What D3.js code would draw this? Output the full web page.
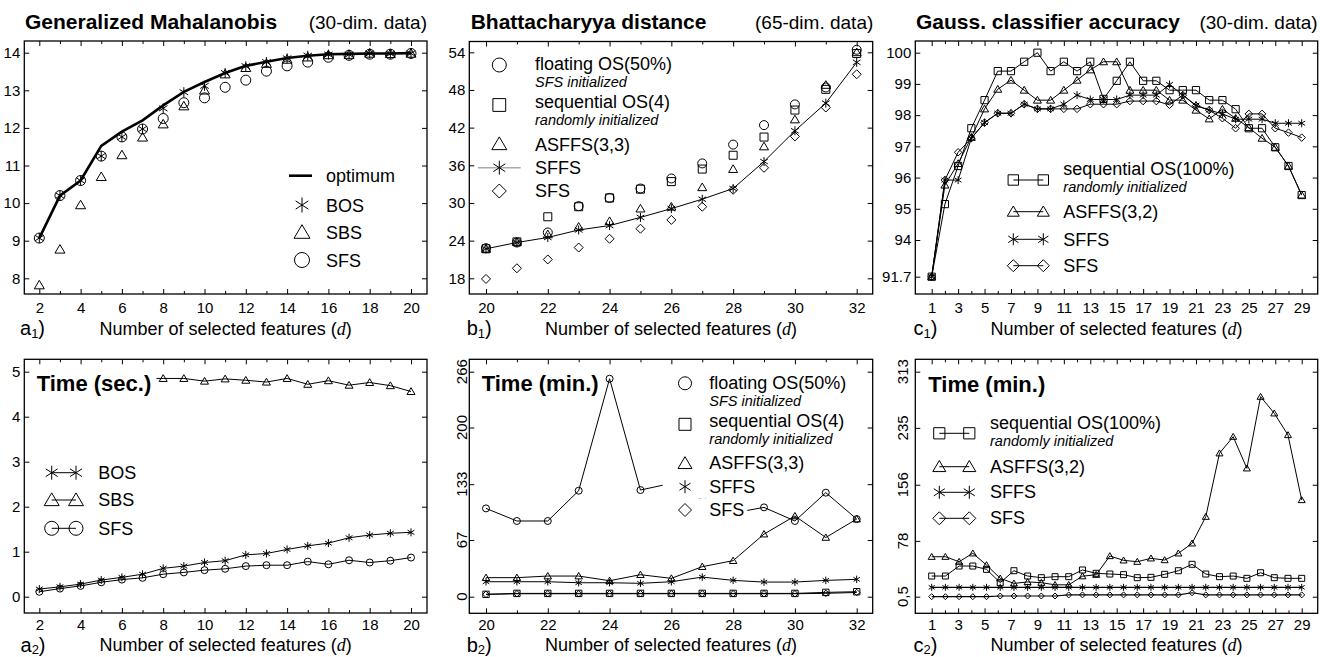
<!DOCTYPE html>
<html><head><meta charset="utf-8">
<script src="https://cdnjs.cloudflare.com/ajax/libs/d3/7.8.5/d3.min.js"></script>
<style>body{margin:0;background:#fff} svg{display:block}</style>
</head><body>
<svg id="c" width="1320" height="657"></svg>
<script>
// ---------------- DATA ----------------
const dA = [2,3,4,5,6,7,8,9,10,11,12,13,14,15,16,17,18,19,20];
const dB = [20,21,22,23,24,25,26,27,28,29,30,31,32];
const dC = [1,2,3,4,5,6,7,8,9,10,11,12,13,14,15,16,17,18,19,20,21,22,23,24,25,26,27,28,29];
const dC2 = [1,2,3,4,5,6,7,8,9,10,11,12,13,14,15,16,17,18,19,20,21,22,23,24,25,26,27,28]; // run index (28 runs over d = 1..29)

// a1 Generalized Mahalanobis
const a1Opt = [9.07,10.2,10.6,11.52,11.9,12.2,12.6,12.96,13.22,13.46,13.65,13.76,13.86,13.92,13.96,13.97,13.98,13.98,13.99];
const a1BOS = [9.07,10.2,10.6,11.25,11.76,11.97,12.52,12.95,13.12,13.46,13.64,13.75,13.85,13.92,13.95,13.95,13.98,13.97,13.98];
const a1SBS = [7.82,8.77,9.95,10.7,11.28,11.75,12.1,12.58,13.0,13.43,13.6,13.71,13.82,13.88,13.94,13.95,13.98,13.97,13.98];
const a1SFS = [9.07,10.2,10.6,11.25,11.76,11.97,12.25,12.67,12.8,13.08,13.27,13.51,13.65,13.75,13.88,13.93,13.96,13.96,13.98];

// b1 Bhattacharyya distance
const b1Float = [22.8,23.7,25.3,29.5,30.8,32.3,33.9,36.3,39.3,42.4,45.7,48.4,54.4];
const b1Seq   = [22.7,23.8,27.8,29.4,30.8,32.2,33.4,35.4,37.6,40.5,44.8,48.1,53.8];
const b1Asf   = [22.7,23.8,25.0,26.2,27.1,29.1,29.4,32.5,35.4,39.0,43.3,48.8,54.0];
const b1Sffs  = [22.7,23.7,24.5,25.7,26.4,27.7,29.1,30.6,32.3,36.6,41.5,45.9,52.4];
const b1Sfs   = [17.9,19.6,21.0,22.9,24.3,25.9,27.3,29.4,32.1,35.6,40.6,45.2,50.5];

// c1 Gauss classifier accuracy
const c1Seq  = [91.7,95.15,96.37,97.58,98.48,99.41,99.41,99.71,100,99.41,99.71,99.41,99.71,98.52,99.1,99.71,99.1,99.1,98.8,98.8,98.8,98.48,98.48,98.19,97.58,97.58,96.97,96.37,95.44];
const c1Asf  = [91.7,95.76,96.45,97.29,98.2,98.83,99.12,98.8,98.48,98.48,98.8,99.12,99.45,99.71,99.71,98.8,98.8,98.8,98.48,98.48,98.16,97.88,98.19,97.9,97.6,97.26,96.97,96.37,95.44];
const c1Sffs = [91.7,95.92,95.92,97.26,97.76,98.06,98.06,98.35,98.2,98.2,98.35,98.64,98.5,98.5,98.5,98.64,98.64,98.64,98.98,98.64,98.32,98.16,98.04,97.87,97.87,97.87,97.74,97.74,97.74];
const c1Sfs  = [91.7,95.92,96.81,97.26,97.76,98.06,98.06,98.35,98.2,98.2,98.2,98.2,98.35,98.35,98.35,98.45,98.45,98.45,98.33,98.64,98.3,98.16,97.9,97.58,98.04,98.04,97.58,97.44,97.28];

// a2 Time (sec.)
const a2BOS = [0.17,0.22,0.28,0.37,0.43,0.5,0.63,0.68,0.76,0.8,0.93,0.96,1.05,1.13,1.19,1.31,1.37,1.41,1.43];
const a2SFS = [0.11,0.18,0.24,0.32,0.38,0.42,0.5,0.54,0.59,0.62,0.68,0.7,0.7,0.78,0.72,0.81,0.76,0.8,0.87];
const dA2SBS = [7,8,9,10,11,12,13,14,15,16,17,18,19,20];
const a2SBS = [4.85,4.85,4.85,4.79,4.84,4.81,4.77,4.85,4.72,4.8,4.7,4.76,4.69,4.56];

// b2 Time (min.)
const b2Float = [104.4,89.5,89.5,125.3,257.7,126.1,134,115,99,105.6,89.5,123,91.8];
const b2Seq   = [2.8,3.9,3.9,3.9,3.9,3.9,3.9,3.9,3.9,3.9,3.9,5.1,5.9];
const b2Asf   = [22.5,22.5,24.4,24.4,18.9,26,21.7,35.5,42.6,74,95.4,70,91.8];
const b2Sffs  = [17.7,17.7,17.7,16.5,16.5,15.8,17.7,23.2,19.3,17.3,17.3,19.3,20.5];
const b2Sfs   = [2.8,3.5,3.5,3.5,3.5,3.5,3.5,3.5,3.5,3.5,3.5,4,5];

// c2 Time (min.)
const c2Seq  = [29.2,29.2,43.1,43.1,38.5,20,36.6,29.2,26.9,28.3,28.3,37.6,33,32,31.1,26.9,27.4,31.6,36.6,45.5,32,28.3,29.2,26,33.8,26.9,26,26];
const c2Asf  = [56,56,49.1,60.8,44.5,26,19,21,20,17,17,29,31,57,51,49.1,53.8,51.4,60.7,74.6,111.6,199.7,222.7,178.8,278.3,255.2,225.1,134.8];
const c2Sffs = [13.5,13.5,13.5,13.5,13.5,13.5,13.5,13.5,13.5,13.5,13.5,13.5,13.5,13.5,13.5,13.5,13.5,13.5,13.5,13.5,13.5,13.5,13.5,13.5,13.5,13.5,13.5,13.5];
const c2Sfs  = [0.5,0.5,0.5,0.5,0.5,1.5,1.5,1.5,1.5,1.5,3,3,3,3,3,3,3,3,3,6,3,3,3,3,3,3,3,3];

// ticks
const xTicksA = [2,4,6,8,10,12,14,16,18,20];
const xTicksB = [20,22,24,26,28,30,32];
const xTicksC = [1,3,5,7,9,11,13,15,17,19,21,23,25,27,29];
const yTicksA1 = [8,9,10,11,12,13,14];
const yTicksB1 = [18,24,30,36,42,48,54];
const yTicksC1 = [91.7,94,95,96,97,98,99,100];
const yLabelsC1 = ["91.7","94","95","96","97","98","99","100"];
const yTicksA2 = [0,1,2,3,4,5];
const yTicksB2 = [0,67,133,200,266];
const yTicksC2 = [0.5,78,156,235,313];
const yLabelsC2 = ["0,5","78","156","235","313"];

// ---------------- DRAWING ----------------
const FONT = '"Liberation Sans", Arial, Helvetica, sans-serif';
const SUBSZ = 14.5, SUBGAP = 17;
const svg = d3.select('#c');
svg.append('rect').attr('width',1320).attr('height',657).attr('fill','#fff');

function mk(type, s) {
  const h = s/2;
  switch(type) {
    case 'circle': return `M${-h},0a${h},${h} 0 1,0 ${s},0a${h},${h} 0 1,0 ${-s},0Z`;
    case 'square': { const q = s*0.4; return `M${-q},${-q}H${q}V${q}H${-q}Z`; }
    case 'triangle': return `M0,${-h*0.95}L${h},${h*0.75}L${-h},${h*0.75}Z`;
    case 'diamond': return `M0,${-h}L${h},0L0,${h}L${-h},0Z`;
    case 'star': { const a = h*0.85, b = h*0.55; return `M0,${-h}V${h}M${-a},${-b}L${a},${b}M${-a},${b}L${a},${-b}`; }
  }
}

function series(xs, ys, xS, yS, type, size, withLine, lw) {
  const g = svg.append('g');
  const pts = xs.map((d,i) => [xS(d), yS(ys[i])]);
  if (withLine) g.append('path').attr('d', d3.line()(pts)).attr('fill','none').attr('stroke','#000').attr('stroke-width', lw || 1);
  if (type) g.selectAll(null).data(pts).join('path')
    .attr('transform', p => `translate(${p[0]},${p[1]})`)
    .attr('d', mk(type, size)).attr('fill','none').attr('stroke','#000').attr('stroke-width', 1);
}

function frame(p) {
  const {L,R,T,B,x,y} = p;
  svg.append('rect').attr('x',L).attr('y',T).attr('width',R-L).attr('height',B-T)
     .attr('fill','none').attr('stroke','#000').attr('stroke-width',1.3);
  const minor = d3.range(Math.ceil(p.xmin), p.xmax+1).filter(v => !p.xMajor.includes(v));
  const ax = (gen, tx, ty) => {
    const g = svg.append('g').attr('transform', `translate(${tx},${ty})`).call(gen);
    g.select('.domain').remove();
    g.selectAll('line').attr('stroke','#000').attr('stroke-width',1);
    g.selectAll('text').attr('font-size',15).attr('font-family',FONT).attr('fill','#000');
    return g;
  };
  ax(d3.axisBottom(x).tickValues(p.xMajor).tickSize(-5).tickPadding(p.xPad || 8).tickFormat(d3.format('d')), 0, B);
  ax(d3.axisBottom(x).tickValues(minor).tickSize(-3).tickFormat(''), 0, B);
  ax(d3.axisTop(x).tickValues(p.xMajor).tickSize(-5).tickFormat(''), 0, T);
  ax(d3.axisTop(x).tickValues(minor).tickSize(-3).tickFormat(''), 0, T);
  ax(d3.axisRight(y).tickValues(p.yTicks).tickSize(-5).tickFormat(''), R, 0);
  if (!p.rot) {
    ax(d3.axisLeft(y).tickValues(p.yTicks).tickSize(-5).tickPadding(4)
       .tickFormat((d,i) => p.yLabels ? p.yLabels[i] : d3.format('d')(d)), L, 0);
  } else {
    ax(d3.axisLeft(y).tickValues(p.yTicks).tickSize(-5).tickFormat(''), L, 0);
    p.yTicks.forEach((v,i) => {
      svg.append('text').attr('transform', `translate(${L - p.rotOff},${y(v)}) rotate(-90)`)
        .attr('text-anchor','middle').attr('font-size',15).attr('font-family',FONT)
        .text(p.yLabels ? p.yLabels[i] : v);
    });
  }
}

function txt(x, y, s, opts = {}) {
  const t = svg.append('text').attr('x',x).attr('y',y).attr('font-family',FONT)
    .attr('font-size', opts.size || 18).attr('fill','#000').text(s);
  if (opts.bold) t.attr('font-weight','bold');
  if (opts.italic) t.attr('font-style','italic');
  if (opts.anchor) t.attr('text-anchor', opts.anchor);
  return t;
}
function sub(x, y, s) { return txt(x, y, s, {italic:true, size:SUBSZ}); }

function xTitle(p, base) {
  const t = svg.append('text').attr('x',(p.L+p.R)/2).attr('y',base).attr('text-anchor','middle')
    .attr('font-family',FONT).attr('font-size',18).attr('fill','#000');
  t.append('tspan').text('Number of selected features (');
  t.append('tspan').attr('font-family','"Liberation Serif","Times New Roman",serif').attr('font-style','italic').text('d');
  t.append('tspan').text(')');
}
function pLabel(x, base, letter, subs) {
  const t = svg.append('text').attr('x',x).attr('y',base).attr('font-family',FONT).attr('font-size',20).attr('fill','#000');
  t.append('tspan').text(letter);
  t.append('tspan').attr('font-size',13).attr('dy',2.5).text(subs);
  t.append('tspan').attr('dy',-2.5).text(')');
}
function sym(x, y, type, s) {
  svg.append('path').attr('transform',`translate(${x},${y})`).attr('d', mk(type,s))
    .attr('fill','none').attr('stroke','#000').attr('stroke-width',1);
}
function hline(x1, x2, y, col, w) {
  svg.append('line').attr('x1',x1).attr('x2',x2).attr('y1',y).attr('y2',y)
    .attr('stroke',col||'#000').attr('stroke-width',w||1);
}
function whiteBox(x1, y1, x2, y2) {
  svg.append('rect').attr('x',x1).attr('y',y1).attr('width',x2-x1).attr('height',y2-y1).attr('fill','#fff');
}

const ROW2_BASE = 651.5;
const ROW2_PAD = 6.5;

// ===== Panel a1 =====
const xA = d3.scaleLinear().domain([2,20]).range([39.3,411]);
const yA1 = d3.scaleLinear().domain([8,14]).range([278.3,52.7]);
const pA1 = {L:24.3,R:427,T:41,B:294,x:xA,y:yA1,xMajor:xTicksA,xmin:2,xmax:20,yTicks:yTicksA1};
frame(pA1);
series(dA, a1Opt, xA, yA1, null, 0, true, 2.6);
series(dA, a1SBS, xA, yA1, 'triangle', 10, false);
series(dA, a1SFS, xA, yA1, 'circle', 10, false);
series(dA, a1BOS, xA, yA1, 'star', 10, false);
txt(25, 29, 'Generalized Mahalanobis', {bold:true, size:21});
txt(427, 29, '(30-dim. data)', {size:19, anchor:'end'});
hline(289, 312, 175.7, '#000', 2.6); txt(326, 182, 'optimum');
sym(302, 205, 'star', 15); txt(326, 211.5, 'BOS');
sym(302, 232.3, 'triangle', 16); txt(326, 238.5, 'SBS');
sym(302, 260, 'circle', 15); txt(326, 266.5, 'SFS');
xTitle(pA1, 335); pLabel(20, 335, 'a', '1');

// ===== Panel b1 =====
const xB = d3.scaleLinear().domain([20,32]).range([486,856.7]);
const yB1 = d3.scaleLinear().domain([18,54]).range([278.3,52.3]);
const pB1 = {L:469.3,R:872.7,T:41.5,B:294,x:xB,y:yB1,xMajor:xTicksB,xmin:20,xmax:32,yTicks:yTicksB1};
frame(pB1);
series(dB, b1Sffs, xB, yB1, 'star', 9, true, 1);
series(dB, b1Float, xB, yB1, 'circle', 9, false);
series(dB, b1Seq, xB, yB1, 'square', 10, false);
series(dB, b1Asf, xB, yB1, 'triangle', 9, false);
series(dB, b1Sfs, xB, yB1, 'diamond', 9, false);
txt(470.7, 29, 'Bhattacharyya distance', {bold:true, size:21});
txt(873.3, 29, '(65-dim. data)', {size:19, anchor:'end'});
sym(499.3, 65, 'circle', 14); txt(535, 69.5, 'floating OS(50%)');
sub(535, 69.5 + SUBGAP, 'SFS initialized');
sym(499.3, 105, 'square', 16); txt(535, 108, 'sequential OS(4)');
sub(535, 108 + SUBGAP, 'randomly initialized');
sym(499.3, 144, 'triangle', 15); txt(535, 151, 'ASFFS(3,3)');
hline(478, 520.7, 167.7, '#aaa', 1.5); sym(499.3, 167.7, 'star', 14); txt(535, 174, 'SFFS');
sym(499.3, 191, 'diamond', 14); txt(535, 197, 'SFS');
xTitle(pB1, 335); pLabel(466.7, 335, 'b', '1');

// ===== Panel c1 =====
const xC = d3.scaleLinear().domain([1,29]).range([931.7,1301.7]);
const yC1 = d3.scaleLinear().domain([91.7,94,100]).range([276.7,240,52.7]);
const pC1 = {L:915.3,R:1317.7,T:41,B:294,x:xC,y:yC1,xMajor:xTicksC,xmin:1,xmax:29,yTicks:yTicksC1,yLabels:yLabelsC1};
frame(pC1);
series(dC, c1Sfs, xC, yC1, 'diamond', 7.5, true, 1);
series(dC, c1Sffs, xC, yC1, 'star', 8, true, 1);
series(dC, c1Asf, xC, yC1, 'triangle', 8, true, 1);
series(dC, c1Seq, xC, yC1, 'square', 9, true, 1);
txt(916, 29, 'Gauss. classifier accuracy', {bold:true, size:21});
txt(1317.7, 29, '(30-dim. data)', {size:19, anchor:'end'});
[[180,'square',13],[211.7,'triangle',12],[239.3,'star',12],[265.7,'diamond',12]].forEach(([yy,t,s]) => {
  hline(1013.3, 1043.3, yy, '#000', 1); sym(1013.3, yy, t, s); sym(1043.3, yy, t, s);
});
txt(1063.3, 175, 'sequential OS(100%)');
sub(1063.3, 175 + SUBGAP, 'randomly initialized');
txt(1063.3, 218, 'ASFFS(3,2)');
txt(1063.3, 245.5, 'SFFS');
txt(1063.3, 271.5, 'SFS');
xTitle(pC1, 335); pLabel(913.5, 335, 'c', '1');

// ===== Panel a2 =====
const yA2 = d3.scaleLinear().domain([0,5]).range([596.7,371.7]);
const pA2 = {L:24.3,R:427,T:359.3,B:613,x:xA,y:yA2,xMajor:xTicksA,xmin:2,xmax:20,yTicks:yTicksA2,xPad:ROW2_PAD};
frame(pA2);
series(dA2SBS, a2SBS, xA, yA2, 'triangle', 8, true, 1);
series(dA, a2BOS, xA, yA2, 'star', 8, true, 1);
series(dA, a2SFS, xA, yA2, 'circle', 7, true, 1);
whiteBox(32, 370, 156.5, 397);
txt(36.7, 391, 'Time (sec.)', {bold:true, size:22});
[[472.7,'star',14,'BOS'],[500,'triangle',15,'SBS'],[528.3,'circle',14,'SFS']].forEach(([yy,t,s,l]) => {
  hline(51.7, 76, yy, '#000', 1); sym(51.7, yy, t, s); sym(76, yy, t, s);
  txt(98.3, yy + 6.3, l);
});
xTitle(pA2, 651); pLabel(20.5, ROW2_BASE, 'a', '2');

// ===== Panel b2 =====
const yB2 = d3.scaleLinear().domain([0,266]).range([596.7,371.7]);
const pB2 = {L:469.3,R:872.7,T:359.3,B:613.3,x:xB,y:yB2,xMajor:xTicksB,xmin:20,xmax:32,yTicks:yTicksB2,rot:true,rotOff:2.6,xPad:ROW2_PAD};
frame(pB2);
series(dB, b2Float, xB, yB2, 'circle', 7, true, 1);
series(dB, b2Asf, xB, yB2, 'triangle', 7.5, true, 1);
series(dB, b2Sffs, xB, yB2, 'star', 7.5, true, 1);
series(dB, b2Seq, xB, yB2, 'square', 8, true, 1);
series(dB, b2Sfs, xB, yB2, 'diamond', 6.5, true, 1);
txt(481.7, 391, 'Time (min.)', {bold:true, size:22});
const b2Leg = [
  {y:383.3, t:'circle', s:13, lab:'floating OS(50%)', base:389, sub:'SFS initialized', box:[372,411]},
  {y:424.3, t:'square', s:15, lab:'sequential OS(4)', base:427, sub:'randomly initialized', box:[411,451]},
  {y:463.3, t:'triangle', s:14, lab:'ASFFS(3,3)', base:469, box:[451,475]},
  {y:486.7, t:'star', s:13, lab:'SFFS', base:492.5, box:[475,498.5]},
  {y:510, t:'diamond', s:13, lab:'SFS', base:515.5, box:[498.5,522]}
];
b2Leg.forEach(e => {
  const r = svg.append('rect').attr('fill','#fff');
  sym(685, e.y, e.t, e.s);
  const t1 = txt(709.3, e.base, e.lab);
  let w = t1.node().getComputedTextLength();
  if (e.sub) { const t2 = sub(709.3, e.base + SUBGAP, e.sub); w = Math.max(w, t2.node().getComputedTextLength()); }
  r.attr('x', 662.7).attr('y', e.box[0]).attr('width', 709.3 + w + 3 - 662.7).attr('height', e.box[1]-e.box[0]);
});
xTitle(pB2, 651); pLabel(466.7, ROW2_BASE, 'b', '2');

// ===== Panel c2 =====
const yC2 = d3.scaleLinear().domain([0.5,313]).range([596.7,371.7]);
const xC2 = d3.scaleLinear().domain([1,28]).range([xC(1), xC(29)]);
const pC2 = {L:915.3,R:1317.7,T:359.3,B:613.3,x:xC,y:yC2,xMajor:xTicksC,xmin:1,xmax:29,yTicks:yTicksC2,yLabels:yLabelsC2,rot:true,rotOff:7,xPad:ROW2_PAD};
frame(pC2);
series(dC2, c2Sfs, xC2, yC2, 'diamond', 6, true, 1.2);
series(dC2, c2Sffs, xC2, yC2, 'star', 7, true, 1.2);
series(dC2, c2Asf, xC2, yC2, 'triangle', 7, true, 1);
series(dC2, c2Seq, xC2, yC2, 'square', 7.5, true, 1);
txt(928.3, 391.5, 'Time (min.)', {bold:true, size:22});
[[433.3,'square',14],[466.7,'triangle',13],[492.3,'star',13],[518.3,'diamond',13]].forEach(([yy,t,s]) => {
  hline(939.3, 969.3, yy, '#000', 1); sym(939.3, yy, t, s); sym(969.3, yy, t, s);
});
txt(990, 428.5, 'sequential OS(100%)');
sub(990, 428.5 + SUBGAP, 'randomly initialized');
txt(990, 472.5, 'ASFFS(3,2)');
txt(990, 498.3, 'SFFS');
txt(990, 524.3, 'SFS');
xTitle(pC2, 651); pLabel(913.5, ROW2_BASE, 'c', '2');
</script>
</body></html>
